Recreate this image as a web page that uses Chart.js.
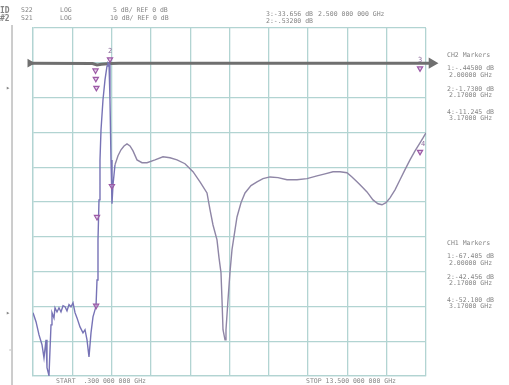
<!DOCTYPE html>
<html><head><meta charset="utf-8">
<script src="https://cdn.jsdelivr.net/npm/chart.js@4"></script>
<style>html,body{margin:0;padding:0;background:#fff}#c{display:block}</style>
</head><body>
<canvas id="c" width="509" height="385"></canvas>
<script>
// S21 trace (10 dB/div, REF 0 dB)
const freqGHz = [0.300,0.401,0.502,0.602,0.669,0.737,0.770,0.837,0.871,0.905,0.938,1.005,1.039,1.106,1.173,1.240,1.308,1.375,1.442,1.509,1.576,1.644,1.711,1.778,1.879,1.979,2.047,2.114,2.181,2.248,2.315,2.382,2.416,2.450,2.483,2.517,2.550,2.584,2.651,2.718,2.786,2.819,2.853,2.886,2.920,2.953,2.987,3.054,3.155,3.256,3.357,3.457,3.558,3.659,3.793,3.961,4.129,4.398,4.666,4.902,5.137,5.405,5.674,5.909,6.144,6.245,6.346,6.480,6.547,6.614,6.648,6.682,6.749,6.782,6.850,6.917,6.984,7.085,7.152,7.286,7.421,7.622,7.824,8.025,8.260,8.529,8.831,9.167,9.503,9.839,10.108,10.376,10.611,10.846,11.014,11.182,11.350,11.518,11.719,11.887,12.022,12.156,12.291,12.459,12.627,12.795,12.963,13.131,13.299,13.400,13.500];
const s21dB = [-71.8,-74.4,-78.2,-81.0,-84.8,-79.6,-87.6,-89.9,-82.5,-75.3,-71.8,-73.3,-70.4,-71.6,-70.4,-71.6,-69.8,-70.1,-71.3,-69.5,-70.1,-69.0,-71.8,-73.3,-75.9,-77.6,-76.7,-79.6,-84.5,-77.6,-73.0,-71.0,-70.1,-62.4,-50.9,-39.4,-27.9,-19.3,-10.6,-4.9,-0.9,0,-0.3,-10.6,-27.9,-40.5,-35.1,-29.3,-26.7,-25.0,-23.9,-23.3,-23.9,-25.3,-27.9,-28.7,-28.7,-27.9,-27.0,-27.3,-27.9,-29.0,-31.3,-34.2,-37.4,-42.2,-46.6,-50.9,-56.0,-60.3,-68.1,-76.7,-79.6,-76.7,-68.1,-60.1,-53.7,-48.0,-44.3,-40.2,-37.4,-35.3,-34.2,-33.3,-32.8,-33.0,-33.6,-33.6,-33.3,-32.5,-31.9,-31.3,-31.3,-31.6,-32.8,-34.2,-35.6,-37.1,-39.4,-40.5,-40.8,-40.2,-38.8,-36.5,-33.6,-30.7,-27.9,-25.3,-23.0,-21.6,-20.1];
// S22 trace (5 dB/div, REF 0 dB)
const s22Freq = [0.20,2.30,2.45,2.60,2.90,3.20,13.70];
const s22dB = [-0.05,-0.1,-0.3,-0.2,-0.1,-0.05,-0.05];
// markers
const markerFreq = [2.40,2.41,2.43,2.886,2.45,2.42,2.95,13.30,13.30];
const markerdB = [-2.2,-4.6,-7.2,1.0,-44.3,-69.8,-35.4,-1.6,-25.6];
const markerLabels = ['','','','2','','','','3','4'];
const xStart = 0.3, xStop = 13.5, yTop = 10, yBottom = -90;

const gridCol = '#b2d4d2';
const txtCol = '#858585';

const textPlugin = {
  id: 'texts',
  afterDraw(chart) {
    const ctx = chart.ctx, a = chart.chartArea;
    const xs = chart.scales.x, ys = chart.scales.y;
    ctx.save();
    // left frame line
    ctx.strokeStyle = '#9a9a9a'; ctx.lineWidth = 1;
    ctx.beginPath(); ctx.moveTo(a.left - 21, a.top - 3); ctx.lineTo(a.left - 21, chart.height); ctx.stroke();
    ctx.fillStyle = '#8a8a8a';
    ctx.font = '7px "DejaVu Sans Mono"';
    ctx.textBaseline = 'middle';
    ctx.fillText('▸', a.left - 27, ys.getPixelForValue(-7.2));
    ctx.fillText('▸', a.left - 27, ys.getPixelForValue(-72));
    ctx.fillText('-', a.left - 25, ys.getPixelForValue(-82.5));
    // marker labels
    ctx.fillStyle = '#8a6a9a';
    ctx.font = '7px "DejaVu Sans Mono"';
    ctx.textAlign = 'center';
    markerLabels.forEach((l, i) => {
      if (!l) return;
      const px = xs.getPixelForValue(markerFreq[i]);
      const py = ys.getPixelForValue(markerdB[i]);
      ctx.fillText(l, px + (l === '4' ? 3 : 0), py - 8);
    });
    // header texts
    ctx.textAlign = 'left';
    ctx.fillStyle = txtCol;
    ctx.font = 'bold 8px "DejaVu Sans Mono"';
    ctx.fillText('ID', 0, 11); ctx.fillText('#2', 0, 19);
    ctx.font = '6.5px "DejaVu Sans Mono"';
    ctx.fillText('S22', 21, 10); ctx.fillText('LOG', 60, 10); ctx.fillText('5 dB/ REF 0 dB', 113, 10);
    ctx.fillText('S21', 21, 18); ctx.fillText('LOG', 60, 18); ctx.fillText('10 dB/ REF 0 dB', 110, 18);
    ctx.fillText('3:-33.656 dB', 266, 14); ctx.fillText('2.500 000 000 GHz', 318, 14);
    ctx.fillText('2:-.53200 dB', 266, 21);
    // right markers panels
    const rx = 447;
    const panel = (y0, lines) => {
      ctx.fillText(lines[0], rx, y0);
      [[13,20],[34,40],[57,63]].forEach((d, k) => {
        ctx.fillText(lines[1 + 2 * k], rx, y0 + d[0]);
        ctx.fillText(lines[2 + 2 * k], rx + 2, y0 + d[1]);
      });
    };
    panel(55, ['CH2 Markers','1:-.44500 dB','2.00000 GHz','2:-1.7300 dB','2.17000 GHz','4:-11.245 dB','3.17000 GHz']);
    panel(243, ['CH1 Markers','1:-67.405 dB','2.00000 GHz','2:-42.456 dB','2.17000 GHz','4:-52.100 dB','3.17000 GHz']);
    // bottom
    ctx.fillText('START  .300 000 000 GHz', 56, chart.height - 3.5);
    ctx.fillText('STOP 13.500 000 000 GHz', 306, chart.height - 3.5);
    ctx.restore();
  }
};

new Chart(document.getElementById('c'), {
  type: 'line',
  data: {
    datasets: [
      {
        label: 'S22',
        data: s22Freq.map((f, i) => ({x: f, y: s22dB[i]})),
        yAxisID: 'y2',
        borderColor: '#6f6f6f', borderWidth: 3,
        pointRadius: s22Freq.map((f, i) => i === s22Freq.length - 1 ? 3.5 : (i === 0 ? 2 : 0)),
        pointStyle: 'triangle', rotation: 90,
        pointBackgroundColor: '#6f6f6f', pointBorderColor: '#6f6f6f',
        clip: false, order: 3
      },
      {
        label: 'S21',
        data: freqGHz.map((f, i) => ({x: f, y: s21dB[i]})),
        yAxisID: 'y',
        borderColor: '#8a83aa', borderWidth: 1.4,
        segment: {borderColor: c => c.p0.parsed.x < 3.0 ? '#7773b6' : '#8f86a6'},
        pointRadius: 0, tension: 0, order: 2
      },
      {
        label: 'markers', type: 'scatter',
        data: markerFreq.map((f, i) => ({x: f, y: markerdB[i]})),
        yAxisID: 'y',
        pointStyle: 'triangle', rotation: 180, pointRadius: 3,
        borderColor: '#9c5aa6', backgroundColor: 'rgba(200,160,210,0.5)', borderWidth: 1.2,
        clip: false, order: 1
      }
    ]
  },
  options: {
    responsive: false, animation: false, devicePixelRatio: 1,
    layout: {padding: {left: 33, right: 83, top: 28, bottom: 9}},
    plugins: {legend: {display: false}, tooltip: {enabled: false}},
    scales: {
      x: {
        type: 'linear', min: xStart, max: xStop,
        afterBuildTicks: s => { s.ticks = Array.from({length: 11}, (_, i) => ({value: xStart + (xStop - xStart) * i / 10})); },
        ticks: {display: false},
        grid: {color: gridCol, lineWidth: 1.3, drawTicks: false},
        border: {display: true, color: gridCol, width: 1.3}
      },
      y: {
        min: yBottom, max: yTop,
        ticks: {display: false, stepSize: 10},
        grid: {color: gridCol, lineWidth: 1.3, drawTicks: false},
        border: {display: true, color: gridCol, width: 1.3}
      },
      y2: {min: -45, max: 5, display: false}
    }
  },
  plugins: [textPlugin]
});
</script>
</body></html>
